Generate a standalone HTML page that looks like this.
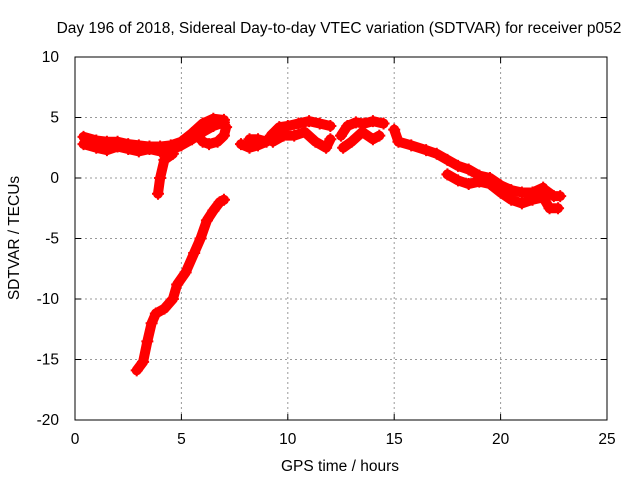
<!DOCTYPE html>
<html><head><meta charset="utf-8"><style>
body{margin:0;background:#fff;}
svg text{font-family:"Liberation Sans",sans-serif;font-size:15.5px;fill:#000;}
</style></head><body>
<svg width="640" height="480" xmlns="http://www.w3.org/2000/svg">
<g id="grid"></g>
<rect x="75" y="57" width="532" height="363" fill="none" stroke="#000"/>
<g id="ticks"></g>
<g id="marks"></g>
<text x="339" y="33" text-anchor="middle">Day 196 of 2018, Sidereal Day-to-day VTEC variation (SDTVAR) for receiver p052</text>
<text x="340" y="471" text-anchor="middle">GPS time / hours</text>
<text transform="translate(19,238) rotate(-90)" text-anchor="middle">SDTVAR / TECUs</text>
</svg>
<script>
const xTicks=[0,5,10,15,20,25];
const yTicks=[10,5,0,-5,-10,-15,-20];
const trackA=[[0.4,2.8],[1,2.5],[1.5,2.3],[2,2.6],[2.5,2.4],[3,2.2],[3.5,2.4],[4,2.2],[4.5,2.3],[5,2.7],[5.5,3.2],[6,3.8],[6.5,4.3],[7,4.6]];
const trackA2=[[0.4,3.4],[1,3.1],[1.5,3.0],[2,3.0],[2.5,2.8],[3,2.7],[3.5,2.6],[4,2.6],[4.5,2.7],[5,3.0],[5.5,3.7],[6,4.5],[6.5,4.9],[7,4.8]];
const trackA3=[[5.8,3.5],[6.0,3.0],[6.3,2.8],[6.7,3.0],[7.0,3.5],[7.1,4.2]];
const spike=[[4.6,2.0],[4.2,1.5],[4.0,0],[3.9,-1.3]];
const trackB=[[2.9,-15.9],[3.2,-15.2],[3.4,-13.5],[3.6,-12],[3.8,-11.2],[4.2,-10.8],[4.6,-10],[4.8,-8.8],[5.2,-7.8],[5.6,-6.2],[5.9,-5],[6.2,-3.5],[6.5,-2.7],[6.8,-2],[7.0,-1.8]];
const trackC=[[7.8,2.8],[8.2,2.5],[8.6,2.7],[9.0,3.0],[8.6,3.2],[8.2,3.2]];
const trackD=[[9.2,3.5],[9.6,4.2],[10,4.3],[10.5,4.5],[11,4.7],[11.5,4.5],[12,4.3]];
const trackD2=[[9.3,3.0],[9.8,3.5],[10.3,3.5],[10.8,3.8],[11.3,3.0],[11.8,2.5],[12,3.2]];
const trackE=[[12.5,3.5],[12.8,4.3],[13.2,4.6],[13.6,4.5],[14,4.7],[14.5,4.5]];
const trackE2=[[12.6,2.5],[13,3.0],[13.5,3.8],[14,3.2],[14.3,3.5]];
const trackF=[[15,4],[15.2,3],[15.8,2.7],[16.5,2.3],[17,2.0],[17.5,1.5],[18,1.0],[18.5,0.7],[19,0.2],[19.5,0],[20,-0.6],[20.5,-1.0],[21,-1.2],[21.5,-1.2],[22,-0.8]];
const trackF2=[[17.5,0.3],[18,-0.2],[18.5,-0.5],[19,-0.3],[19.5,-0.5],[20,-1.2],[20.5,-1.8],[21,-2.1],[21.5,-1.8],[22,-1.6],[22.3,-2.5],[22.7,-2.5]];
const trackF3=[[22.1,-1.0],[22.5,-1.5],[22.8,-1.5]];
const tracks=[trackA,trackA2,trackA3,spike,trackB,trackC,trackD,trackD2,trackE,trackE2,trackF,trackF2,trackF3];

const X0=75,X1=607,Y0=420,Y1=57;
function sx(h){return X0+(h-0)/(25-0)*(X1-X0);}
function sy(v){return Y0-(v+20)/30*(Y0-Y1);}
const NS='http://www.w3.org/2000/svg';
function mk(tag,attrs,parent){const e=document.createElementNS(NS,tag);for(const k in attrs)e.setAttribute(k,attrs[k]);parent.appendChild(e);return e;}
const grid=document.getElementById('grid'),ticks=document.getElementById('ticks'),marks=document.getElementById('marks');
xTicks.forEach(t=>{const x=sx(t);
 if(t>0&&t<25){const g=mk('line',{x1:x,y1:Y1,x2:x,y2:Y0,stroke:'#999','stroke-dasharray':'2,3'},grid);
 
 }
 mk('line',{x1:x,y1:Y0,x2:x,y2:Y0-6,stroke:'#000'},ticks);
 mk('line',{x1:x,y1:Y1,x2:x,y2:Y1+6,stroke:'#000'},ticks);
 const l=mk('text',{x:x,y:Y0+24,'text-anchor':'middle'},ticks);l.textContent=t;
 
 
});
yTicks.forEach(t=>{const y=sy(t);
 if(t<10&&t>-20){const g=mk('line',{x1:X0,y1:y,x2:X1,y2:y,stroke:'#999','stroke-dasharray':'2,3'},grid);
 
 }
 mk('line',{x1:X0,y1:y,x2:X0+6,y2:y,stroke:'#000'},ticks);
 mk('line',{x1:X1,y1:y,x2:X1-6,y2:y,stroke:'#000'},ticks);
 const l=mk('text',{x:X0-16,y:y+5,'text-anchor':'end'},ticks);l.textContent=t;
 
 
});
tracks.forEach(tr=>{
 const p=mk('polyline',{points:tr.map(d=>sx(d[0])+','+sy(d[1])).join(' '),fill:'none',stroke:'#f00','stroke-width':10,'stroke-linejoin':'round','stroke-linecap':'round'},marks);
 
 
 tr.forEach(d=>{const x=sx(d[0]),y=sy(d[1]);
  const m=mk('path',{d:`M${x-6},${y}h12M${x},${y-6}v12`,stroke:'#f00','stroke-width':2},marks);
  
  
 });
});
</script>
</body></html>
